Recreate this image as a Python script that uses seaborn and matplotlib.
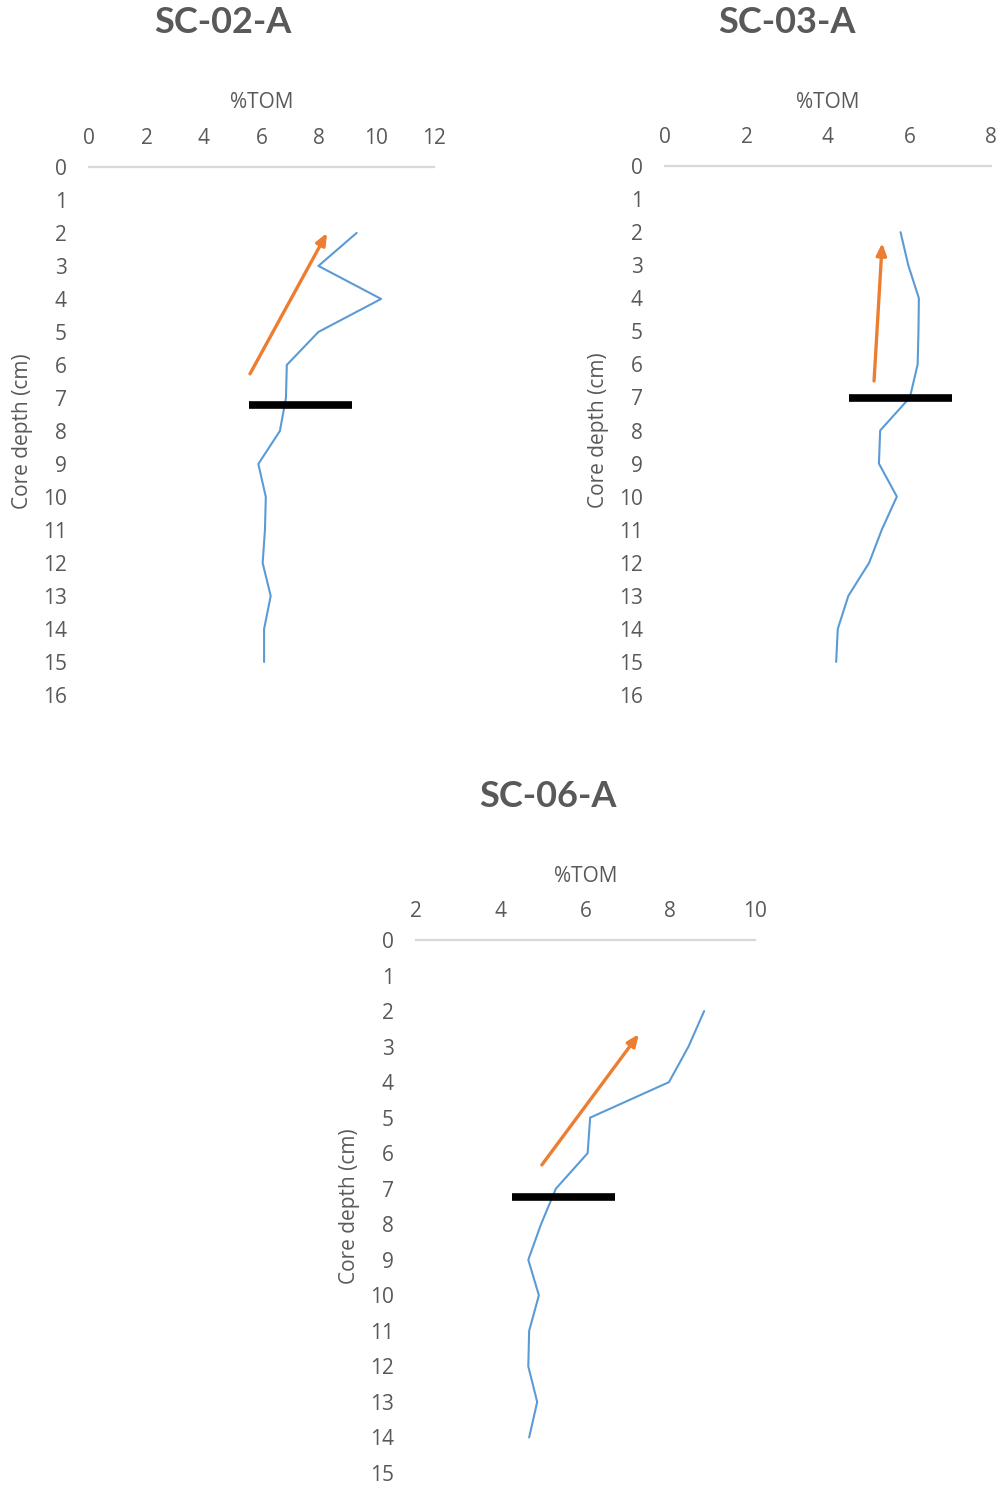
"""%TOM depth profiles for three sediment cores."""
import matplotlib

matplotlib.use("Agg")
import matplotlib.pyplot as plt
import pandas as pd
import seaborn as sns

sns.set_style("white")
plt.rcParams["font.family"] = ["Open Sans", "DejaVu Sans"]

TEXT = "#595959"
BLUE = "#5b9bd5"
ORANGE = "#ed7d31"

# SC-02-A
sc02_depth = [2, 3, 4, 5, 6, 7, 8, 9, 10, 11, 12, 13, 14, 15]
sc02_tom = [9.31, 7.98, 10.16, 7.98, 6.88, 6.85, 6.64, 5.89, 6.15, 6.12, 6.04, 6.32, 6.09, 6.09]
sc02_arrow = [(5.6, 6.27), (8.28, 2.0)]
sc02_bar = [5.57, 9.15, 7.21]

# SC-03-A
sc03_depth = [2, 3, 4, 5, 6, 7, 8, 9, 10, 11, 12, 13, 14, 15]
sc03_tom = [5.78, 5.97, 6.23, 6.22, 6.20, 6.01, 5.28, 5.25, 5.69, 5.32, 5.01, 4.50, 4.24, 4.20]
sc03_arrow = [(5.13, 6.5), (5.33, 2.33)]
sc03_bar = [4.52, 7.04, 7.02]

# SC-06-A
sc06_depth = [2, 3, 4, 5, 6, 7, 8, 9, 10, 11, 12, 13, 14]
sc06_tom = [8.80, 8.43, 7.97, 6.11, 6.05, 5.30, 4.95, 4.65, 4.90, 4.67, 4.65, 4.86, 4.67]
sc06_arrow = [(4.97, 6.33), (7.26, 2.65)]
sc06_bar = [4.27, 6.70, 7.23]

panels = [
    ("SC-02-A", sc02_depth, sc02_tom, sc02_arrow, sc02_bar, (0, 12), 16,
     [0.089, 0.532, 0.345, 0.3556], (0.223, 0.985)),
    ("SC-03-A", sc03_depth, sc03_tom, sc03_arrow, sc03_bar, (0, 8), 16,
     [0.665, 0.532, 0.326, 0.3562], (0.787, 0.985)),
    ("SC-06-A", sc06_depth, sc06_tom, sc06_arrow, sc06_bar, (2, 10), 15,
     [0.416, 0.0081, 0.339, 0.3589], (0.548, 0.4633)),
]

fig = plt.figure(figsize=(10, 14.85), dpi=100)

for title, depth, tom, arrow, bar, xlim, dmax, rect, title_xy in panels:
    ax = fig.add_axes(rect)
    df = pd.DataFrame({"depth": depth, "tom": tom})
    sns.lineplot(data=df, x="tom", y="depth", sort=False, estimator=None,
                 color=BLUE, linewidth=1.5, ax=ax)

    ax.hlines(bar[2], bar[0], bar[1], color="black", linewidth=5.5, zorder=3)
    ax.annotate("", xy=arrow[1], xytext=arrow[0],
                arrowprops=dict(arrowstyle="-|>,head_length=0.7,head_width=0.3",
                                color=ORANGE, lw=2.4, shrinkA=0, shrinkB=0))

    ax.set_xlim(*xlim)
    ax.set_ylim(dmax, 0)
    ax.set_xticks(range(xlim[0], xlim[1] + 1, 2))
    ax.set_yticks(range(0, dmax + 1))
    ax.xaxis.tick_top()
    ax.xaxis.set_label_position("top")
    ax.tick_params(axis="both", length=0, labelsize=15, labelcolor=TEXT)
    ax.tick_params(axis="x", pad=13)
    ax.tick_params(axis="y", pad=16)
    ax.set_xlabel("%TOM", fontsize=15, color=TEXT, labelpad=14)
    ax.set_ylabel("Core depth (cm)", fontsize=15, color=TEXT, labelpad=7)
    for side in ["bottom", "left", "right"]:
        ax.spines[side].set_visible(False)
    ax.spines["top"].set_color("#d9d9d9")
    ax.spines["top"].set_linewidth(1.6)
    ax.set_facecolor("none")

    fig.text(*title_xy, title, ha="center", va="center", fontsize=26,
             fontweight="bold", color=TEXT, family=["Lato", "DejaVu Sans"])

fig.savefig("out.png", dpi=100)
